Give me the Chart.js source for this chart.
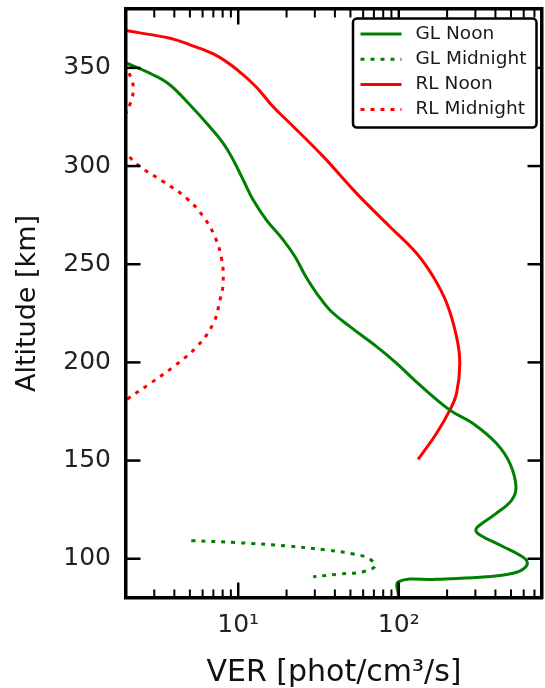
<!DOCTYPE html>
<html>
<head>
<meta charset="utf-8">
<title>VER altitude profiles</title>
<script src="https://cdn.jsdelivr.net/npm/chart.js@4.4.1/dist/chart.umd.min.js"></script>
<style>
  html, body { margin: 0; padding: 0; background: #fff; }
  canvas { display: block; }
</style>
</head>
<body>
<canvas id="chart" width="545" height="688"></canvas>
<script>
// Altitude [km] and VER [phot/cm^3/s] (top to bottom)
const glNoonAlt = [355, 352.5, 346.4, 341.3, 331.1, 321.8, 311.6, 303.1, 292.9, 282.7, 272.5, 262.3, 253.8, 243.6, 235.2, 226.7, 218.2, 208, 199.5, 188.5, 175.7, 168.9, 158.8, 148.6, 136.7, 129.9, 123.1, 117.2, 114.6, 112.1, 106.1, 101.8, 98.5, 95.1, 92.6, 90.8, 89.5, 88.3, 80];
const glNoonVer = [1.7, 2.0, 2.96, 3.76, 5.01, 6.36, 8.07, 9.31, 10.75, 12.4, 15.0, 19.1, 22.6, 26.4, 30.8, 37.2, 49.7, 72.8, 97, 135, 208, 290, 405, 492, 537, 505, 405, 320, 302, 320, 448, 568, 630, 604, 516, 352, 172, 100, 100];

const glMidAlt = [109.2, 108.2, 106.5, 104.4, 102.4, 100.2, 96.3, 93.4, 92.2, 90.8];
const glMidVer = [5.1, 9.8, 20.1, 35.6, 52.2, 64.7, 71.2, 60.1, 43.1, 29.3];

const rlNoonAlt = [371, 369, 365.1, 361.7, 356.6, 348.9, 340.4, 330.2, 321.8, 304.8, 286.1, 269.1, 255.6, 243.6, 230.1, 213.1, 199.5, 184.2, 175.7, 163.9, 150.6];
const rlNoonVer = [1.6, 2.0, 3.76, 5.01, 7.2, 9.9, 12.9, 16.5, 21.0, 33.9, 54.6, 88.1, 129, 164, 199, 229, 240, 229, 208, 172, 132];

const rlMidAlt = [356, 350, 344, 338.7, 333, 327, 317, 307.3, 299.7, 292, 283.6, 274.2, 264, 252.2, 240.3, 231.8, 219.9, 208, 197.8, 189.3, 181.7, 176];
const rlMidVer = [1.8, 2.0, 2.17, 2.22, 2.15, 2.0, 1.8, 2.0, 2.45, 3.43, 4.78, 6.07, 7.16, 7.9, 8.05, 7.7, 7.0, 5.52, 3.95, 2.83, 2.07, 1.7];

// axes
const xMin = 2, xMax = 780;
const yMin = 80, yMax = 380;
const xMajorTicks = [10, 100];
const xMajorLabels = ['10¹', '10²'];
const xMinorTicks = [2, 3, 4, 5, 6, 7, 8, 9, 20, 30, 40, 50, 60, 70, 80, 90, 200, 300, 400, 500, 600, 700];
const yTicks = [100, 150, 200, 250, 300, 350];

const FONT = 'DejaVu Sans';
Chart.defaults.font.family = FONT;

function toPoints(alt, ver) {
    return alt.map((a, i) => ({ x: ver[i], y: a }));
}

function xTicksFromLists(scale) {
    const all = xMinorTicks.concat(xMajorTicks).sort((a, b) => a - b);
    scale.ticks = all.map(v => ({ value: v }));
}

function yTicksFromList(scale) {
    scale.ticks = yTicks.map(v => ({ value: v }));
}

// fix the box size and drop the label overhang padding so the plot area is exact
function fixSize(w, h) {
    return s => {
        if (w !== null) s.width = w;
        if (h !== null) s.height = h;
        s.paddingTop = s.paddingBottom = s.paddingLeft = s.paddingRight = 0;
    };
}

const borderOpts = { display: true, color: '#000', width: 3.5, z: 1 };
const noGrid = { display: false, drawTicks: false, drawOnChartArea: false };

// tick marks pointing into the plot on all four sides, then the boxed legend
const frameAndLegend = {
    id: 'frameAndLegend',
    afterDraw(chart) {
        const { ctx, chartArea } = chart;
        const xScale = chart.scales.x;
        const yScale = chart.scales.y;
        const L = chartArea.left, R = chartArea.right, T = chartArea.top, B = chartArea.bottom;

        ctx.save();
        ctx.fillStyle = '#000';
        xMajorTicks.concat(xMinorTicks).forEach(v => {
            const major = xMajorTicks.indexOf(v) >= 0;
            const len = major ? 15.5 : 8.5;
            const w = major ? 2.5 : 2;
            const px = xScale.getPixelForValue(v);
            ctx.fillRect(px - w / 2, B - len, w, len);
            ctx.fillRect(px - w / 2, T, w, len);
        });
        yTicks.forEach(v => {
            const py = yScale.getPixelForValue(v);
            ctx.fillRect(L, py - 1.25, 14.5, 2.5);
            ctx.fillRect(R - 14.5, py - 1.25, 14.5, 2.5);
        });

        // legend
        const w = 183.5, h = 109;
        const left = R - 5.5 - w;
        const top = T + 9.5;
        ctx.beginPath();
        ctx.roundRect(left, top, w, h, 4);
        ctx.fillStyle = '#fff';
        ctx.fill();
        ctx.lineWidth = 2.5;
        ctx.strokeStyle = '#000';
        ctx.stroke();
        ctx.font = '18.5px "' + FONT + '"';
        ctx.textBaseline = 'middle';
        chart.data.datasets.forEach((ds, i) => {
            const y = top + 15.5 + i * 25.2;
            ctx.beginPath();
            ctx.setLineDash(ds.borderDash || []);
            ctx.lineWidth = ds.borderWidth;
            ctx.strokeStyle = ds.borderColor;
            ctx.moveTo(left + 7.5, y);
            ctx.lineTo(left + 48.5, y);
            ctx.stroke();
            ctx.setLineDash([]);
            ctx.fillStyle = '#1a1a1a';
            ctx.fillText(ds.label, left + 62.5, y);
        });
        ctx.restore();
    }
};

const dotted = [4, 6];

new Chart(document.getElementById('chart'), {
    type: 'scatter',
    data: {
        datasets: [
            { label: 'GL Noon', data: toPoints(glNoonAlt, glNoonVer), borderColor: '#008000', borderWidth: 3 },
            { label: 'GL Midnight', data: toPoints(glMidAlt, glMidVer), borderColor: '#008000', borderWidth: 3, borderDash: dotted },
            { label: 'RL Noon', data: toPoints(rlNoonAlt, rlNoonVer), borderColor: '#ff0000', borderWidth: 3 },
            { label: 'RL Midnight', data: toPoints(rlMidAlt, rlMidVer), borderColor: '#ff0000', borderWidth: 3, borderDash: dotted }
        ].map(ds => Object.assign(ds, { showLine: true, pointRadius: 0, tension: 0.4, fill: false }))
    },
    options: {
        responsive: false,
        animation: false,
        layout: { padding: 0 },
        plugins: { legend: { display: false }, tooltip: { enabled: false } },
        scales: {
            x: {
                type: 'logarithmic', position: 'bottom', min: xMin, max: xMax,
                afterBuildTicks: xTicksFromLists,
                afterFit: fixSize(null, 90),
                border: borderOpts,
                grid: noGrid,
                ticks: {
                    autoSkip: false, maxRotation: 0, padding: 12, color: '#222',
                    font: { size: 25 },
                    callback: v => {
                        const i = xMajorTicks.indexOf(v);
                        return i >= 0 ? xMajorLabels[i] : '';
                    }
                },
                title: {
                    display: true, text: 'VER [phot/cm³/s]', color: '#111',
                    font: { size: 30, lineHeight: 1 }, padding: { top: 0, bottom: 0 }
                }
            },
            x2: {
                type: 'logarithmic', position: 'top', min: xMin, max: xMax,
                afterBuildTicks: xTicksFromLists,
                afterFit: fixSize(null, 9),
                border: borderOpts,
                grid: noGrid,
                ticks: { display: false, autoSkip: false }
            },
            y: {
                type: 'linear', position: 'left', min: yMin, max: yMax,
                afterBuildTicks: yTicksFromList,
                afterFit: fixSize(126, null),
                border: borderOpts,
                grid: noGrid,
                ticks: { padding: 15, color: '#222', font: { size: 25 } },
                title: {
                    display: true, text: 'Altitude [km]', color: '#111',
                    font: { size: 27 }, padding: { top: 12, bottom: 0 }
                }
            },
            y2: {
                type: 'linear', position: 'right', min: yMin, max: yMax,
                afterBuildTicks: yTicksFromList,
                afterFit: fixSize(3, null),
                border: borderOpts,
                grid: noGrid,
                ticks: { display: false }
            }
        }
    },
    plugins: [frameAndLegend]
});
</script>
</body>
</html>
